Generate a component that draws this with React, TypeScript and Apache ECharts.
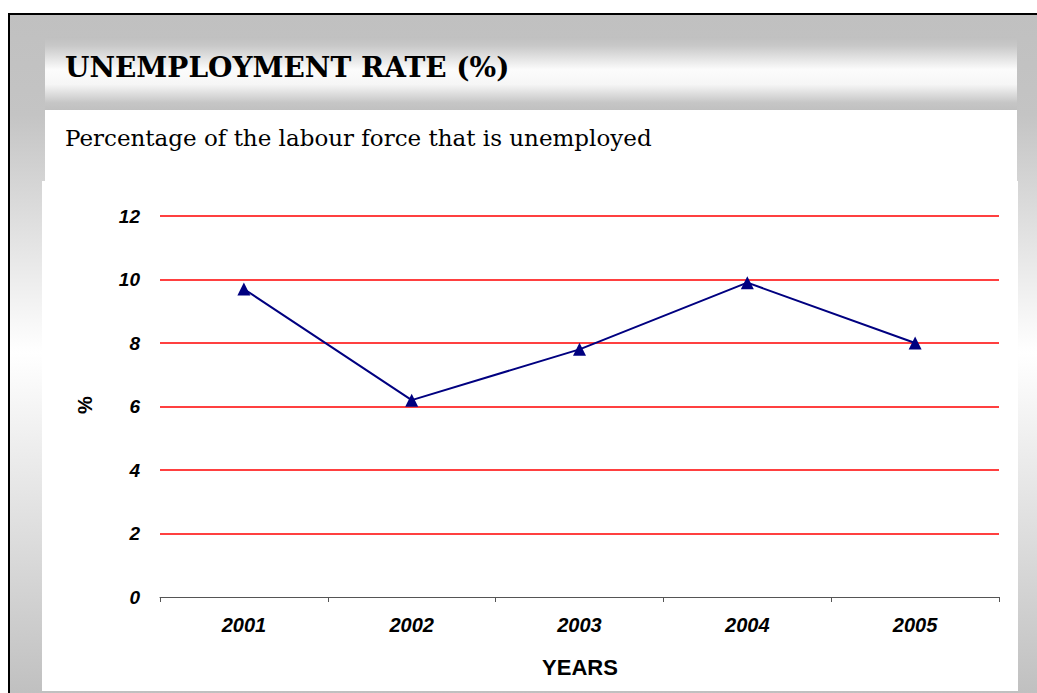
import React, { useEffect, useRef } from "react";
import * as echarts from "echarts";

const years = ["2001", "2002", "2003", "2004", "2005"];
const unemploymentRate = [9.7, 6.2, 7.8, 9.9, 8.0];
const yTicks = { min: 0, max: 12, interval: 2 };
const titleText = "UNEMPLOYMENT RATE (%)";
const subtitleText = "Percentage of the labour force that is unemployed";
const yAxisTitle = "%";
const xAxisTitle = "YEARS";

const W = 1037;
const H = 693;

export default function App() {
  const ref = useRef<HTMLDivElement>(null);
  useEffect(() => {
    if (!ref.current) return;
    const chart = echarts.init(ref.current, undefined, { renderer: "svg" });
    const vGrad = (stops: [number, string][]) =>
      new echarts.graphic.LinearGradient(0, 0, 0, 1, stops.map(([offset, color]) => ({ offset, color })));
    const labelFont = {
      fontFamily: "Liberation Sans, Arial, sans-serif",
      fontWeight: "bold" as const,
      fontStyle: "italic" as const,
      color: "#000",
    };
    chart.setOption({
      animation: false,
      backgroundColor: "#fff",
      graphic: [
        {
          type: "rect",
          z: -10,
          shape: { x: 8, y: 13, width: W - 8, height: H - 13 },
          style: {
            fill: vGrad([
              [0, "#c0c0c0"],
              [0.15, "#c4c4c4"],
              [0.5, "#ffffff"],
              [1, "#c0c0c0"],
            ]),
          },
        },
        {
          type: "rect",
          z: -9,
          shape: { x: 45, y: 37, width: 972, height: 73 },
          style: {
            fill: vGrad([
              [0, "#c0c0c0"],
              [0.12, "#c8c8c8"],
              [0.45, "#fcfcfc"],
              [0.65, "#f6f6f6"],
              [0.9, "#c6c6c6"],
              [1, "#c0c0c0"],
            ]),
          },
        },
        {
          type: "rect",
          z: -9,
          shape: { x: 45, y: 110, width: 972, height: 71 },
          style: { fill: "#ffffff" },
        },
        {
          type: "rect",
          z: -9,
          shape: { x: 42, y: 181, width: 976, height: 510 },
          style: { fill: "#ffffff" },
        },
        {
          type: "line",
          z: -8,
          shape: { x1: 8, y1: 14, x2: W, y2: 14 },
          style: { stroke: "#000", lineWidth: 2 },
        },
        {
          type: "line",
          z: -8,
          shape: { x1: 9, y1: 13, x2: 9, y2: H },
          style: { stroke: "#000", lineWidth: 2 },
        },
        {
          type: "text",
          x: 65,
          y: 67,
          style: {
            text: titleText,
            font: "bold 28px 'DejaVu Serif', serif",
            fill: "#000",
            verticalAlign: "middle",
          },
        },
        {
          type: "text",
          x: 65,
          y: 138,
          style: {
            text: subtitleText,
            font: "23px 'DejaVu Serif', serif",
            fill: "#000",
            verticalAlign: "middle",
          },
        },
        {
          type: "text",
          x: 85,
          y: 405,
          rotation: Math.PI / 2,
          style: {
            text: yAxisTitle,
            font: "bold 20px 'Liberation Sans', Arial, sans-serif",
            fill: "#000",
            align: "center",
            verticalAlign: "middle",
          },
        },
        {
          type: "text",
          x: 580,
          y: 667,
          style: {
            text: xAxisTitle,
            font: "bold 22px 'Liberation Sans', Arial, sans-serif",
            fill: "#000",
            align: "center",
            verticalAlign: "middle",
          },
        },
      ],
      grid: { left: 160, right: 38, top: 216, bottom: 96, containLabel: false },
      xAxis: {
        type: "category",
        data: years,
        boundaryGap: true,
        axisLine: { show: true, lineStyle: { color: "#555", width: 1 } },
        axisTick: { show: true, length: 5, lineStyle: { color: "#555" } },
        axisLabel: { ...labelFont, fontSize: 20, margin: 18 },
        splitLine: { show: false },
      },
      yAxis: {
        type: "value",
        min: yTicks.min,
        max: yTicks.max,
        interval: yTicks.interval,
        axisLine: { show: false },
        axisTick: { show: false },
        axisLabel: { ...labelFont, fontSize: 19, margin: 20 },
        splitLine: {
          show: true,
          showMinLine: false,
          lineStyle: { color: "#ff0000", width: 1.6 },
        },
      },
      series: [
        {
          type: "line",
          data: unemploymentRate,
          symbol: "triangle",
          symbolSize: 13,
          showAllSymbol: true,
          lineStyle: { color: "#000080", width: 2 },
          itemStyle: { color: "#000080" },
          z: 5,
        },
      ],
    });
    return () => chart.dispose();
  }, []);
  return (
    <div
      ref={ref}
      style={{ position: "absolute", left: 0, top: 0, width: W, height: H }}
    />
  );
}
